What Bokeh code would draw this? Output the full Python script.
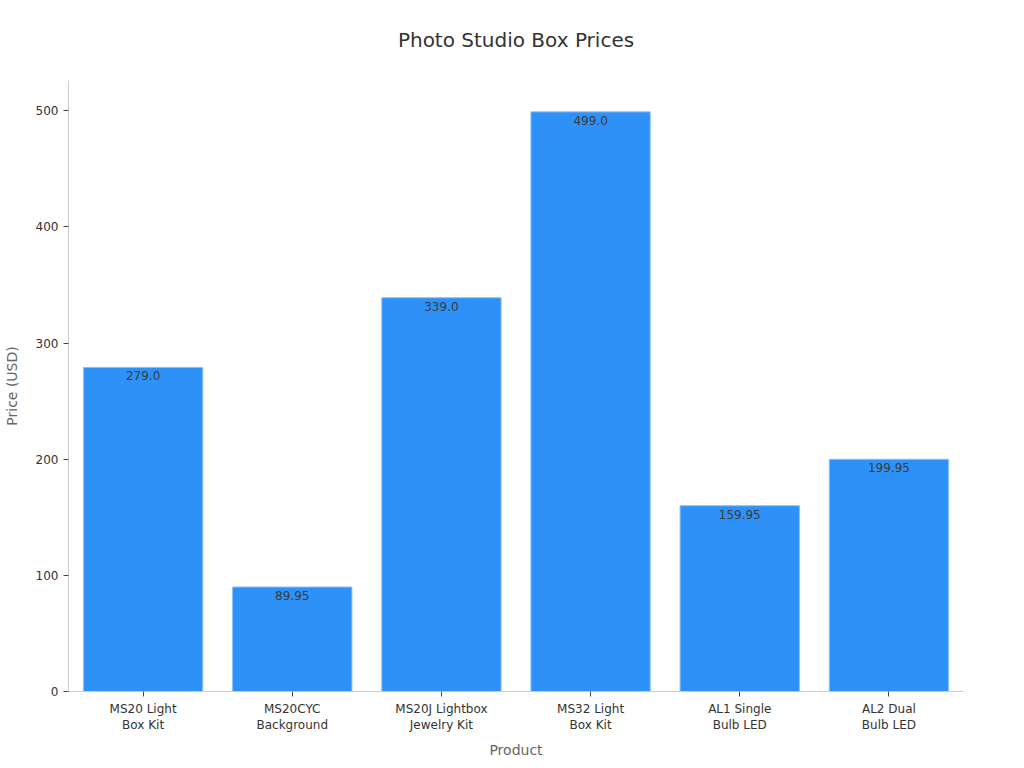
from bokeh.plotting import figure
from bokeh.models import ColumnDataSource, Range1d, Title, FixedTicker
from bokeh.embed import file_html
from bokeh.resources import INLINE
from bokeh.core.properties import value

products = ["MS20 Light\nBox Kit", "MS20CYC\nBackground", "MS20J Lightbox\nJewelry Kit",
            "MS32 Light\nBox Kit", "AL1 Single\nBulb LED", "AL2 Dual\nBulb LED"]
prices = [279.0, 89.95, 339.0, 499.0, 159.95, 199.95]
price_labels = [str(v) for v in prices]
y_ticks = [0, 100, 200, 300, 400, 500]

FONT = "DejaVu Sans"

src = ColumnDataSource(dict(product=products, price=prices, label=price_labels))

p = figure(x_range=products, y_range=Range1d(0, 526), width=1010, height=761,
           output_backend="svg", toolbar_location=None,
           min_border_left=68, min_border_right=47, min_border_top=80, min_border_bottom=70)

p.add_layout(Title(text="Photo Studio Box Prices", align="center", text_font=FONT,
                   text_font_size="20px", text_font_style="normal", text_color="#333333",
                   vertical_align="top", standoff=53), "above")

p.vbar(x="product", top="price", width=0.8, source=src,
       fill_color="#2E91F8", line_color="#8CC0F7", line_width=1)

p.text(x="product", y="price", text="label", source=src, text_align="center",
       text_baseline="top", y_offset=4, text_font=value(FONT), text_font_size="12px",
       text_color="#3a3a3a")

p.xgrid.grid_line_color = None
p.ygrid.grid_line_color = None
p.outline_line_color = None

for ax in (p.xaxis[0], p.yaxis[0]):
    ax.axis_line_color = "#cccccc"
    ax.major_tick_line_color = "#444444"
    ax.minor_tick_line_color = None
    ax.major_tick_in = 0
    ax.major_tick_out = 5
    ax.major_label_text_font = FONT
    ax.major_label_text_font_size = "12px"
    ax.major_label_text_color = "#333333"
    ax.axis_label_text_font = FONT
    ax.axis_label_text_font_size = "14px"
    ax.axis_label_text_font_style = "normal"
    ax.axis_label_text_color = "#666666"

p.yaxis[0].ticker = FixedTicker(ticks=y_ticks)
p.yaxis[0].axis_label = "Price (USD)"
p.yaxis[0].axis_label_standoff = 13
p.xaxis[0].axis_label = "Product"
p.xaxis[0].axis_label_standoff = 7
p.xaxis[0].major_label_orientation = "horizontal"

open("out.html", "w").write(file_html(p, INLINE))
